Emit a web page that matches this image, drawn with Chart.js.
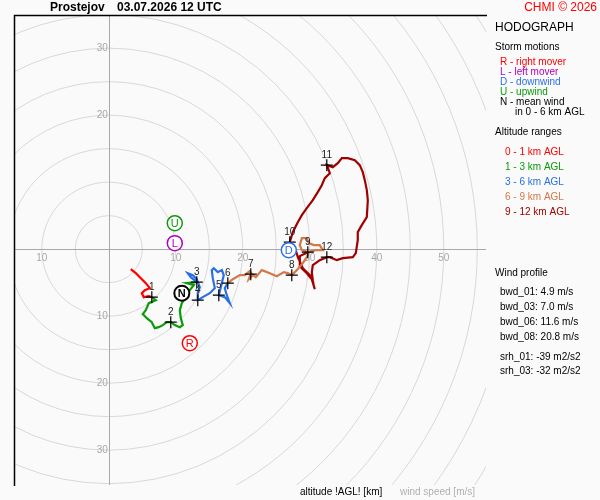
<!DOCTYPE html>
<html>
<head>
<meta charset="utf-8">
<script src="https://cdn.jsdelivr.net/npm/chart.js@4"></script>
<style>
  html, body { margin: 0; padding: 0; background: #fafafa; }
  #wrap { width: 600px; height: 500px; position: relative; }
</style>
</head>
<body>
<div id="wrap"><canvas id="hodo" width="600" height="500"></canvas></div>
<script>
// Wind components in m/s (u to the right, v up)
const layer01U = [3.28, 4.03, 4.78, 5.52, 6.12, 5.37, 4.93, 5.22, 5.97, 6.42];
const layer01V = [-2.99, -3.58, -4.33, -5.07, -5.82, -6.12, -6.57, -7.16, -7.01, -7.16];

const layer13U = [6.42, 7.01, 5.97, 5.52, 5.07, 5.67, 6.42, 6.87, 7.46, 8.06, 8.66, 9.25, 9.85, 10.60, 11.04, 10.75, 10.60, 10.90, 11.49, 12.09, 12.69, 11.64, 13.13];
const layer13V = [-7.16, -7.61, -8.06, -9.10, -9.70, -10.30, -10.90, -11.79, -11.64, -11.34, -10.90, -10.90, -11.34, -11.64, -11.34, -10.30, -9.10, -8.06, -7.16, -6.12, -5.37, -5.07, -4.93];

const layer36U = [13.13, 12.24, 11.79, 12.54, 13.13, 13.58, 13.28, 13.28, 14.03, 15.07, 15.82, 15.52, 15.37, 15.67, 16.27, 16.87, 17.16, 16.87, 16.42, 17.31, 18.06, 17.61, 17.31, 17.76];
const layer36V = [-4.93, -4.18, -3.58, -3.88, -4.48, -5.67, -6.42, -7.61, -7.16, -6.57, -5.82, -4.33, -3.13, -2.84, -3.43, -3.13, -3.88, -5.07, -6.87, -7.16, -8.06, -6.87, -5.82, -5.07];

const layer69U = [17.76, 18.51, 19.55, 20.30, 21.04, 21.49, 20.90, 21.19, 21.94, 22.84, 24.03, 25.07, 26.12, 26.72, 27.31, 28.06, 28.96, 29.55, 29.85, 28.81, 28.51, 28.81, 29.55, 29.85, 30.60, 31.49, 31.94, 30.90, 29.70];
const layer69V = [-5.07, -4.48, -3.88, -3.88, -3.28, -3.88, -4.48, -3.58, -4.18, -3.13, -3.58, -4.03, -3.43, -3.58, -3.88, -3.13, -2.09, -1.19, -0.45, -0.15, 0.60, 1.64, 1.64, 0.90, 0.60, 0.60, -0.15, -0.15, -0.45];

const layer912U = [29.70, 28.51, 28.51, 29.40, 30.30, 30.75, 30.15, 28.96, 28.21, 27.91, 27.01, 27.46, 28.21, 28.81, 29.55, 30.45, 31.19, 31.79, 32.24, 32.99, 32.54, 33.43, 34.18, 34.78, 35.67, 36.72, 37.46, 37.91, 38.21, 38.51, 38.66, 38.51, 37.76, 37.16, 37.16, 36.87, 36.42, 34.93, 34.03, 32.99, 32.54, 31.49, 30.45, 30.30, 30.45, 30.60];
const layer912V = [-0.45, -1.04, -2.54, -3.43, -4.48, -5.97, -4.03, -2.84, -1.19, -0.15, 1.04, 2.54, 4.03, 5.07, 6.12, 7.31, 8.51, 9.55, 10.60, 11.34, 12.54, 12.24, 12.84, 13.58, 13.58, 13.28, 12.54, 11.49, 10.30, 8.81, 7.31, 4.78, 3.58, 2.54, 1.34, -0.60, -1.19, -1.34, -1.64, -1.19, -1.19, -1.64, -2.39, -3.43, -4.63, -5.52];

// altitude markers every km
const kmLabels = ['1', '2', '3', '4', '5', '6', '7', '8', '9', '10', '11', '12'];
const kmU = [6.42, 9.25, 13.13, 13.28, 16.42, 17.76, 21.19, 27.31, 29.70, 27.01, 32.54, 32.54];
const kmV = [-7.16, -10.90, -4.93, -7.61, -6.87, -5.07, -3.73, -3.88, -0.45, 1.04, 12.54, -1.19];

// storm motions
const stormLetters = ['R', 'L', 'D', 'U', 'N'];
const stormU = [12.09, 9.85, 26.87, 9.85, 10.90];
const stormV = [-14.03, 0.90, -0.15, 3.88, -6.57];
const stormColors = ['#ff0000', '#b000c0', '#2a6fe6', '#0a9a0a', '#000000'];

// speed rings and axis tick labels
const ringSpeeds = [5, 10, 15, 20, 25, 30, 35, 40, 45, 50, 55, 60, 65, 70, 75];
const xTickValues = [-10, 10, 20, 30, 40, 50];
const yTickValues = [30, 20, -10, -20, -30];

const layerNames = ['0 - 1 km AGL', '1 - 3 km AGL', '3 - 6 km AGL', '6 - 9 km AGL', '9 - 12 km AGL'];
const layerColors = ['#ff0000', '#0a9a0a', '#2a6fe6', '#d2784a', '#a00000'];

const windProfile = ['bwd_01: 4.9 m/s', 'bwd_03: 7.0 m/s', 'bwd_06: 11.6 m/s', 'bwd_08: 20.8 m/s'];
const helicity = ['srh_01: -39 m2/s2', 'srh_03: -32 m2/s2'];

function pts(us, vs) {
    return us.map((u, i) => ({ x: u, y: vs[i] }));
}

const FONT = '"Liberation Sans", Arial, sans-serif';

// rings, axes and their numbers under the data
const gridPlugin = {
    id: 'hodoGrid',
    beforeDatasetsDraw(chart) {
        const { ctx, chartArea: a, scales } = chart;
        const x0 = scales.x.getPixelForValue(0);
        const y0 = scales.y.getPixelForValue(0);
        ctx.save();
        ctx.beginPath();
        ctx.rect(a.left, a.top, a.right - a.left, a.bottom - a.top);
        ctx.clip();
        ctx.strokeStyle = '#d8d8d8';
        ctx.lineWidth = 1;
        ringSpeeds.forEach(s => {
            const r = scales.x.getPixelForValue(s) - x0;
            ctx.beginPath();
            ctx.arc(x0, y0, r, 0, Math.PI * 2);
            ctx.stroke();
        });
        ctx.strokeStyle = '#a8a8a8';
        ctx.beginPath();
        ctx.moveTo(a.left, Math.round(y0) + 0.5);
        ctx.lineTo(a.right, Math.round(y0) + 0.5);
        ctx.moveTo(Math.round(x0) + 0.5, a.top);
        ctx.lineTo(Math.round(x0) + 0.5, a.bottom);
        ctx.stroke();
        ctx.restore();

        ctx.save();
        ctx.fillStyle = '#a8a8a8';
        ctx.font = '10px ' + FONT;
        ctx.textAlign = 'center';
        ctx.textBaseline = 'top';
        xTickValues.forEach(v => {
            ctx.fillText(String(Math.abs(v)), scales.x.getPixelForValue(v), y0 + 4);
        });
        ctx.textAlign = 'right';
        ctx.textBaseline = 'middle';
        yTickValues.forEach(v => {
            ctx.fillText(String(Math.abs(v)), x0 - 1, scales.y.getPixelForValue(v));
        });
        ctx.restore();
    },
    afterDatasetsDraw(chart) {
        const { ctx, chartArea: a } = chart;
        ctx.save();
        // frame: top and left only
        ctx.strokeStyle = '#000';
        ctx.lineWidth = 1.5;
        ctx.beginPath();
        ctx.moveTo(a.left - 0.5, a.bottom + 1);
        ctx.lineTo(a.left - 0.5, a.top - 0.5);
        ctx.lineTo(a.right + 1, a.top - 0.5);
        ctx.stroke();

        // km labels above the crosses
        const km = chart.getDatasetMeta(5);
        ctx.fillStyle = '#222';
        ctx.font = '10px ' + FONT;
        ctx.textAlign = 'center';
        ctx.textBaseline = 'middle';
        km.data.forEach((p, i) => {
            ctx.fillText(kmLabels[i], p.x, p.y - 10);
        });

        // letters inside the storm motion circles
        const st = chart.getDatasetMeta(6);
        st.data.forEach((p, i) => {
            ctx.fillStyle = stormColors[i];
            ctx.font = (stormLetters[i] === 'N' ? 'bold ' : '') + '11px ' + FONT;
            ctx.fillText(stormLetters[i], p.x, p.y + 0.5);
        });
        ctx.restore();
    },
    afterDraw(chart) {
        const { ctx } = chart;
        ctx.save();
        ctx.textBaseline = 'middle';
        ctx.textAlign = 'left';
        ctx.fillStyle = '#000';
        ctx.font = 'bold 12px ' + FONT;
        ctx.fillText('Prostejov', 50, 8);
        ctx.fillText('03.07.2026 12 UTC', 117, 8);
        ctx.textAlign = 'right';
        ctx.fillStyle = '#ff0000';
        ctx.font = '12px ' + FONT;
        ctx.fillText('CHMI \u00a9 2026', 597, 8);

        ctx.textAlign = 'left';
        ctx.fillStyle = '#000';
        ctx.fillText('HODOGRAPH', 495, 28);
        ctx.font = '10px ' + FONT;
        ctx.fillText('Storm motions', 495, 47);
        const stormText = ['R - right mover', 'L - left mover', 'D - downwind', 'U - upwind', 'N - mean wind'];
        stormText.forEach((t, i) => {
            ctx.fillStyle = stormColors[i];
            ctx.fillText(t, 500, 62 + i * 10);
        });
        ctx.fillStyle = '#000';
        ctx.fillText('in 0 - 6 km AGL', 515, 112);
        ctx.fillText('Altitude ranges', 495, 132);
        layerNames.forEach((t, i) => {
            ctx.fillStyle = layerColors[i];
            ctx.fillText(t, 505, 152 + i * 15);
        });
        ctx.fillStyle = '#000';
        ctx.fillText('Wind profile', 495, 273);
        windProfile.forEach((t, i) => ctx.fillText(t, 500, 292 + i * 15));
        helicity.forEach((t, i) => ctx.fillText(t, 500, 357 + i * 14.5));

        ctx.fillText('altitude !AGL! [km]', 300, 492);
        ctx.fillStyle = '#b0b0b0';
        ctx.fillText('wind speed [m/s]', 400, 492);
        ctx.restore();
    }
};

function traceSet(us, vs, color) {
    return {
        data: pts(us, vs),
        showLine: true,
        borderColor: color,
        borderWidth: 2.2,
        pointRadius: 0,
        fill: false,
        tension: 0,
        order: 3
    };
}

const datasets = [
    traceSet(layer01U, layer01V, layerColors[0]),
    traceSet(layer13U, layer13V, layerColors[1]),
    traceSet(layer36U, layer36V, layerColors[2]),
    traceSet(layer69U, layer69V, layerColors[3]),
    traceSet(layer912U, layer912V, layerColors[4]),
    {
        data: pts(kmU, kmV),
        showLine: false,
        pointStyle: 'cross',
        pointRadius: 6,
        borderColor: '#000',
        borderWidth: 1.2,
        order: 2
    },
    {
        data: pts(stormU, stormV),
        showLine: false,
        pointStyle: 'circle',
        pointRadius: 7.5,
        backgroundColor: '#ffffff',
        borderColor: stormColors,
        borderWidth: stormLetters.map(l => l === 'N' ? 2 : 1.5),
        order: 1
    }
];

const chart = new Chart(document.getElementById('hodo').getContext('2d'), {
    type: 'scatter',
    data: { datasets: datasets },
    options: {
        responsive: false,
        devicePixelRatio: 1,
        animation: false,
        layout: { padding: { left: 15, top: 16, right: 114, bottom: 15 } },
        scales: {
            x: { type: 'linear', min: -14, max: 56.3, display: false },
            y: { type: 'linear', min: -35.2, max: 34.8, display: false }
        },
        plugins: {
            legend: { display: false },
            title: { display: false },
            tooltip: { enabled: false }
        }
    },
    plugins: [gridPlugin]
});
</script>
</body>
</html>
